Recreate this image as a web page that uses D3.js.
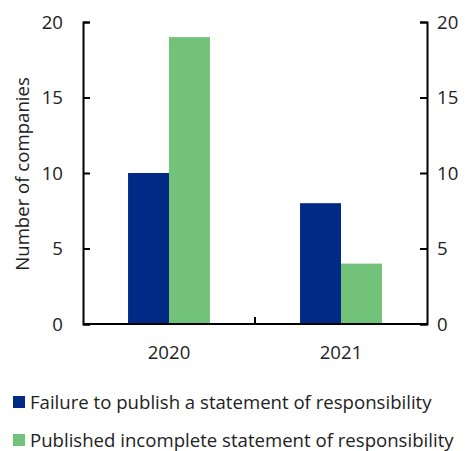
<!DOCTYPE html>
<html>
<head>
<meta charset="utf-8">
<script src="https://cdn.jsdelivr.net/npm/d3@7"></script>
<style>
  body { margin: 0; background: #fff; }
  svg { font-family: "Open Sans", sans-serif; }
</style>
</head>
<body>
<div id="chart"></div>
<script>
let years = ["2020", "2021"]
let seriesNames = ["Failure to publish a statement of responsibility", "Published incomplete statement of responsibility"]
let failureValues = [10, 8]
let incompleteValues = [19, 4]
let tickValues = [0, 5, 10, 15, 20]
let colors = ["#002a85", "#73c279"]

let width = 467, height = 451
let margin = { top: 22, right: 40, bottom: 127, left: 83 }
let fontSize = 18.6

let svg = d3.select("#chart").append("svg")
  .attr("width", width)
  .attr("height", height)

let x = d3.scaleBand()
  .domain(years)
  .range([margin.left, width - margin.right])

let x1 = d3.scaleBand()
  .domain([0, 1])
  .range([0, x.bandwidth()])
  .paddingOuter(1.1)

let y = d3.scaleLinear()
  .domain([0, 20])
  .range([height - margin.bottom, margin.top])

let rows = years.map((yr, i) => ({ year: yr, values: [failureValues[i], incompleteValues[i]] }))

// bars
let groups = svg.selectAll("g.year")
  .data(rows)
  .enter()
  .append("g")
  .attr("transform", d => "translate(" + x(d.year) + ",0)")

groups.selectAll("rect")
  .data(d => d.values.map((v, k) => ({ v: v, k: k })))
  .enter()
  .append("rect")
  .attr("x", d => x1(d.k))
  .attr("width", x1.bandwidth())
  .attr("y", d => y(d.v))
  .attr("height", d => y(0) - y(d.v))
  .attr("fill", d => colors[d.k])

// axes
let gL = svg.append("g")
  .attr("transform", "translate(" + margin.left + ",0)")
  .call(d3.axisRight(y).tickValues(tickValues).tickSize(7))
gL.selectAll("text").remove()
gL.selectAll("path, line").attr("stroke", "#000").attr("stroke-width", 2)

svg.append("g").selectAll("text")
  .data(tickValues)
  .enter()
  .append("text")
  .attr("x", 63)
  .attr("y", d => y(d))
  .attr("dy", "0.35em")
  .attr("text-anchor", "end")
  .attr("font-size", fontSize)
  .attr("fill", "#222")
  .text(d => d)

let gR = svg.append("g")
  .attr("transform", "translate(" + (width - margin.right) + ",0)")
  .call(d3.axisLeft(y).tickValues(tickValues).tickSize(7))
gR.selectAll("text").remove()
gR.selectAll("path, line").attr("stroke", "#000").attr("stroke-width", 2)

svg.append("g").selectAll("text")
  .data(tickValues)
  .enter()
  .append("text")
  .attr("x", width - margin.right + 10)
  .attr("y", d => y(d))
  .attr("dy", "0.35em")
  .attr("text-anchor", "start")
  .attr("font-size", fontSize)
  .attr("fill", "#222")
  .text(d => d)

// x axis baseline with middle tick
let gX = svg.append("g")
  .attr("transform", "translate(0," + y(0) + ")")
gX.append("line")
  .attr("x1", margin.left).attr("x2", width - margin.right)
  .attr("stroke", "#000").attr("stroke-width", 2)
gX.append("line")
  .attr("x1", x("2021")).attr("x2", x("2021"))
  .attr("y1", 0).attr("y2", -7)
  .attr("stroke", "#000").attr("stroke-width", 2)
gX.selectAll("text")
  .data(years)
  .enter()
  .append("text")
  .attr("x", d => x(d) + x.bandwidth() / 2)
  .attr("y", 28)
  .attr("dy", "0.35em")
  .attr("text-anchor", "middle")
  .attr("font-size", fontSize)
  .attr("fill", "#222")
  .text(d => d)

// y label
svg.append("text")
  .attr("transform", "translate(22,174) rotate(-90)")
  .attr("dy", "0.35em")
  .attr("text-anchor", "middle")
  .attr("font-size", fontSize)
  .attr("fill", "#222")
  .text("Number of companies")

// legend
let legend = svg.append("g").selectAll("g")
  .data(seriesNames)
  .enter()
  .append("g")
  .attr("transform", (d, i) => "translate(13," + (402 + i * 38) + ")")
legend.append("rect")
  .attr("x", 0).attr("y", -6)
  .attr("width", 12).attr("height", 12)
  .attr("fill", (d, i) => colors[i])
legend.append("text")
  .attr("x", 17)
  .attr("dy", "0.35em")
  .attr("font-size", fontSize)
  .attr("fill", "#222")
  .text(d => d)
</script>
</body>
</html>
